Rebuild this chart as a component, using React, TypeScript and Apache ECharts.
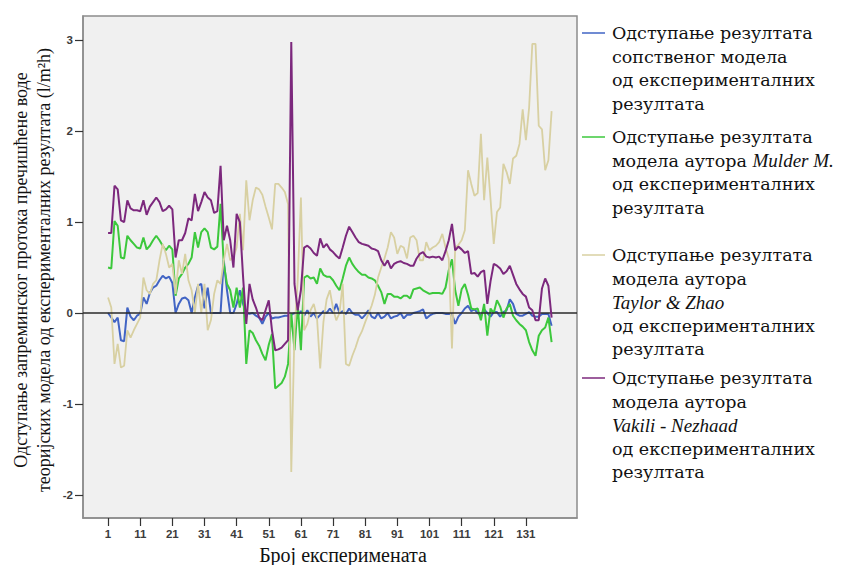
import React, { useEffect, useRef } from "react";
import * as echarts from "echarts";

// ---- Data ----
const experimentCount = 139;
const xTickValues = [1, 11, 21, 31, 41, 51, 61, 71, 81, 91, 101, 111, 121, 131];
const yTickValues = [-2, -1, 0, 1, 2, 3];

const seriesNames = [
  "Одступање резултата сопственог модела од експерименталних резултата",
  "Одступање резултата модела аутора Mulder M. од експерименталних резултата",
  "Одступање резултата модела аутора Taylor & Zhao од експерименталних резултата",
  "Одступање резултата модела аутора Vakili - Nezhaad од експерименталних резултата",
];

const ownModel = [
  0.00, -0.05, -0.10, -0.05, -0.30, -0.31, 0.06, -0.04, -0.08, -0.03,
  -0.01, 0.17, 0.10, 0.22, 0.28, 0.30, 0.36, 0.41, 0.38, 0.40,
  0.33, 0.00, 0.10, 0.16, 0.17, 0.14, 0.00, 0.17, 0.30, 0.32,
  0.05, 0.28, 0.00, 0.00, 0.00, 0.00, 0.58, 0.25, 0.00, 0.00,
  0.10, 0.25, 0.10, 0.00, -0.01, 0.00, -0.03, -0.05, -0.12, -0.04,
  0.00, -0.06, -0.05, -0.05, -0.04, -0.03, -0.03, -0.02, 0.00, -0.03,
  0.02, -0.03, 0.03, -0.04, 0.00, -0.06, -0.02, 0.02, 0.00, 0.05,
  0.00, 0.10, 0.00, 0.02, -0.01, 0.05, 0.00, -0.02, -0.02, -0.06,
  -0.02, 0.03, -0.04, -0.06, 0.00, -0.06, -0.04, 0.00, -0.06, -0.04,
  -0.03, 0.00, -0.06, -0.02, -0.02, 0.00, 0.01, 0.02, 0.04, -0.06,
  -0.03, -0.01, 0.00, 0.00, 0.00, -0.01, -0.01, -0.01, -0.12, -0.04,
  0.00, 0.05, 0.08, 0.02, 0.04, 0.00, -0.03, 0.04, 0.00, -0.04,
  0.01, 0.01, -0.04, 0.01, 0.03, 0.15, 0.10, -0.01, -0.03, -0.03,
  -0.01, 0.01, -0.03, -0.04, -0.04, -0.01, -0.01, -0.01, -0.14,
];

const mulder = [
  0.50, 0.49, 1.01, 0.96, 0.61, 0.60, 0.85, 0.80, 0.76, 0.72,
  0.71, 0.83, 0.70, 0.74, 0.80, 0.85, 0.80, 0.74, 0.69, 0.74,
  0.70, 0.19, 0.38, 0.43, 0.50, 0.54, 0.61, 0.89, 0.72, 0.89,
  0.93, 0.89, 0.72, 0.70, 0.73, 1.20, 0.54, 0.32, 0.25, 0.06,
  0.28, 0.06, 0.28, -0.56, -0.19, -0.22, -0.30, -0.36, -0.45, -0.52,
  -0.35, -0.23, -0.83, -0.80, -0.77, -0.70, -0.56, 0.00, -0.41, 0.10,
  -0.41, 0.39, 0.41, 0.38, 0.39, 0.32, 0.49, 0.42, 0.40, 0.40,
  0.36, 0.30, 0.25, 0.38, 0.52, 0.61, 0.54, 0.49, 0.45, 0.42,
  0.42, 0.39, 0.38, 0.36, 0.30, 0.23, 0.10, 0.21, 0.21, 0.18,
  0.18, 0.16, 0.19, 0.19, 0.16, 0.26, 0.27, 0.28, 0.25, 0.23,
  0.21, 0.22, 0.22, 0.22, 0.21, 0.28, 0.47, 0.59, 0.25, 0.08,
  0.26, 0.32, 0.20, 0.05, 0.04, 0.05, -0.08, 0.10, -0.25, 0.05,
  0.00, 0.14, 0.07, -0.05, 0.05, 0.10, -0.03, -0.08, -0.12, -0.15,
  -0.19, -0.32, -0.41, -0.47, -0.25, -0.19, -0.16, -0.05, -0.32,
];

const taylorZhao = [
  0.17, 0.06, -0.56, -0.34, -0.60, -0.58, -0.19, -0.27, -0.19, -0.12,
  -0.05, 0.39, 0.25, 0.21, 0.32, 0.36, 0.58, 0.76, 0.65, 0.50,
  0.54, 0.21, 0.58, 0.43, 0.65, 0.36, 0.25, 0.00, 0.32, 0.00,
  0.32, -0.19, -0.08, 0.21, 0.36, 0.32, 0.58, 0.76, 0.58, 0.61,
  0.72, 1.09, 0.69, 1.46, 1.02, 1.24, 1.38, 1.36, 1.30, 1.17,
  1.05, 0.92, 1.42, 1.42, 1.38, 1.33, 1.20, -1.75, -0.20, 0.35,
  1.27, -0.19, -0.12, 0.03, 0.10, -0.05, -0.61, -0.10, 0.15, 0.25,
  0.05, -0.08, 0.00, 0.32, -0.56, -0.58, -0.47, -0.38, -0.27, -0.20,
  -0.10, -0.01, 0.08, 0.20, 0.39, 0.50, 0.60, 0.72, 0.89, 0.83,
  0.65, 0.74, 0.72, 0.60, 0.83, 0.85, 0.80, 0.58, 0.58, 0.78,
  0.69, 0.72, 0.74, 0.78, 0.87, 0.72, 0.60, -0.39, 0.72, 0.75,
  0.80, 0.91, 1.57, 1.42, 1.29, 1.32, 1.97, 1.24, 1.71, 1.25,
  0.76, 1.11, 1.16, 1.64, 1.55, 1.42, 1.70, 1.73, 1.86, 2.24,
  1.90, 2.26, 2.96, 2.96, 2.06, 2.02, 1.57, 1.68, 2.22,
];

const vakiliNezhaad = [
  0.88, 0.88, 1.40, 1.36, 1.02, 1.00, 1.24, 1.15, 1.13, 1.13,
  1.12, 1.24, 1.08, 1.17, 1.22, 1.27, 1.22, 1.12, 1.14, 1.18,
  1.14, 0.61, 0.80, 0.80, 0.88, 1.04, 1.02, 1.31, 1.12, 1.22,
  1.33, 1.27, 1.24, 1.10, 1.12, 1.62, 0.80, 0.96, 0.80, 0.50,
  1.09, 1.00, 0.40, -0.12, 0.32, 0.15, 0.06, -0.05, -0.08, 0.03,
  0.14, -0.19, -0.41, -0.40, -0.38, -0.34, -0.30, 2.98, 0.32, 0.03,
  0.25, 0.72, 0.74, 0.71, 0.66, 0.63, 0.82, 0.72, 0.76, 0.70,
  0.67, 0.63, 0.60, 0.72, 0.85, 0.95, 0.89, 0.83, 0.78, 0.76,
  0.75, 0.74, 0.71, 0.70, 0.68, 0.58, 0.52, 0.58, 0.49, 0.54,
  0.56, 0.57, 0.55, 0.54, 0.52, 0.52, 0.60, 0.65, 0.67, 0.62,
  0.61, 0.62, 0.61, 0.62, 0.58, 0.68, 0.80, 0.98, 0.69, 0.73,
  0.70, 0.66, 0.68, 0.43, 0.44, 0.40, 0.45, 0.47, 0.10, 0.35,
  0.54, 0.52, 0.49, 0.43, 0.46, 0.52, 0.42, 0.32, 0.26, 0.21,
  0.18, 0.06, 0.03, -0.08, -0.08, 0.27, 0.38, 0.30, -0.05,
];

const seriesColors = ["#4164c4", "#3cc83c", "#d8d0a2", "#7c287d"];
const seriesValues = [ownModel, mulder, taylorZhao, vakiliNezhaad];

const experiments = Array.from({ length: experimentCount }, (_, i) => i + 1);

const legendEntries = [
  { y: 33, lines: ["Одступање резултата", "сопственог модела", "од експерименталних", "резултата"] },
  { y: 137, lines: ["Одступање резултата", "модела аутора {i|Mulder M.}", "од експерименталних", "резултата"] },
  { y: 255, lines: ["Одступање резултата", "модела аутора", "{i|Taylor & Zhao}", "од експерименталних", "резултата"] },
  { y: 378, lines: ["Одступање резултата", "модела аутора", "{i|Vakili - Nezhaad}", "од експерименталних", "резултата"] },
];

const yTitleLines = [
  "Одступање запреминског протока пречишћене воде",
  "теоријских модела од експерименталних резултата (l/m²h)",
];
const xTitle = "Број експеримената";

export default function App() {
  const ref = useRef<HTMLDivElement>(null);

  useEffect(() => {
    document.body.style.margin = "0";
    if (!ref.current) return;
    const chart = echarts.init(ref.current, null, { renderer: "svg" });

    const legendFont = "'DejaVu Serif', serif";
    const legendSize = 17.5;
    const legendLH = 23.6;

    const graphic: any[] = [];
    legendEntries.forEach((e, i) => {
      graphic.push({
        type: "line",
        shape: { x1: 582, y1: e.y, x2: 605, y2: e.y },
        style: { stroke: seriesColors[i], lineWidth: 1.5 },
        silent: true,
      });
      graphic.push({
        type: "text",
        x: 612,
        y: e.y - legendLH / 2,
        silent: true,
        style: {
          text: e.lines.join("\n"),
          fontFamily: legendFont,
          fontSize: legendSize,
          lineHeight: legendLH,
          fill: "#111",
          verticalAlign: "top",
          align: "left",
          rich: {
            i: {
              fontStyle: "italic",
              fontFamily: "'Liberation Serif', serif",
              fontSize: legendSize + 1.5,
              lineHeight: legendLH,
              fill: "#111",
            },
          },
        },
      });
    });
    yTitleLines.forEach((t, i) => {
      graphic.push({
        type: "text",
        x: i === 0 ? 21 : 44,
        y: 270,
        rotation: Math.PI / 2,
        silent: true,
        style: {
          text: t,
          fontFamily: "'Liberation Serif', serif",
          fontSize: 18,
          fill: "#111",
          align: "center",
          verticalAlign: "middle",
        },
      });
    });
    graphic.push({
      type: "text",
      x: 343,
      y: 555,
      silent: true,
      style: {
        text: xTitle,
        fontFamily: "'Liberation Serif', serif",
        fontSize: 20,
        fill: "#111",
        align: "center",
        verticalAlign: "middle",
      },
    });

    const series: any[] = seriesValues.map((vals, i) => ({
      name: seriesNames[i],
      type: "line",
      data: experiments.map((n, k) => [n, vals[k]]),
      showSymbol: false,
      symbol: "none",
      lineStyle: { color: seriesColors[i], width: i === 2 ? 1.8 : 2 },
      itemStyle: { color: seriesColors[i] },
      z: 2 + i,
    }));
    series[3].markLine = {
      silent: true,
      symbol: "none",
      label: { show: false },
      lineStyle: { color: "#2a2a2a", width: 1.5, type: "solid" },
      data: [{ yAxis: 0 }],
    };

    const labelStyle = {
      color: "#3c3c3c",
      fontFamily: "'Liberation Sans', Arial, sans-serif",
      fontSize: 11.5,
      fontWeight: "bold",
    };
    const axisLineStyle = {
      show: true,
      onZero: false,
      lineStyle: { color: "#8c8c8c", width: 1.5 },
    };

    chart.setOption({
      animation: false,
      backgroundColor: "#ffffff",
      grid: {
        left: 83,
        right: 272,
        top: 16,
        bottom: 47,
        show: true,
        backgroundColor: "#f0f0f0",
        borderColor: "#8c8c8c",
        borderWidth: 1.5,
      },
      xAxis: {
        type: "value",
        min: -6.8,
        max: 146.9,
        axisLine: axisLineStyle,
        splitLine: { show: false },
        axisTick: {
          show: true,
          inside: false,
          length: 8,
          customValues: xTickValues,
          lineStyle: { color: "#333", width: 1.2 },
        },
        axisLabel: { ...labelStyle, customValues: xTickValues, margin: 10 },
      },
      yAxis: {
        type: "value",
        min: -2.255,
        max: 3.267,
        axisLine: axisLineStyle,
        splitLine: { show: false },
        axisTick: {
          show: true,
          inside: false,
          length: 8,
          customValues: yTickValues,
          lineStyle: { color: "#333", width: 1.2 },
        },
        axisLabel: { ...labelStyle, customValues: yTickValues, margin: 10 },
      },
      tooltip: { show: false },
      series,
      graphic,
    });

    return () => chart.dispose();
  }, []);

  return <div ref={ref} style={{ width: 849, height: 565, background: "#fff" }} />;
}
